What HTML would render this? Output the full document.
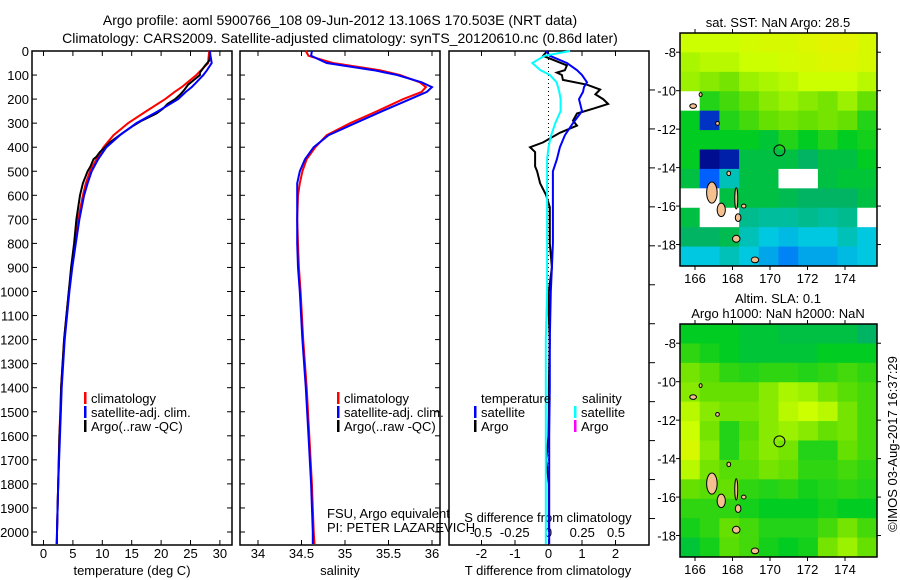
<!DOCTYPE html>
<html><head><meta charset="utf-8"><style>
body{margin:0;background:#fff}
svg{display:block}
text{font-family:"Liberation Sans",sans-serif;fill:#000}
</style></head><body>
<svg id="fig" width="900" height="580" viewBox="0 0 900 580" xmlns="http://www.w3.org/2000/svg">
<rect width="900" height="580" fill="#fff"/>
<text x="340" y="25" font-size="14" text-anchor="middle">Argo profile: aoml 5900766_108 09-Jun-2012 13.106S 170.503E (NRT data)</text>
<text x="340" y="43" font-size="14" text-anchor="middle">Climatology: CARS2009. Satellite-adjusted climatology: synTS_20120610.nc (0.86d later)</text>
<g id="g"></g>
</svg>
<script>
// ---- profile data ----
const depthC=[0,20,50,80,100,130,150,170,200,250,300,350,400,450,500,550,600,700,800,900,1000,1200,1400,1600,1800,2000,2050];
const tempClim=[28.2,28.1,28.0,26.8,26.0,24.5,23.5,22.3,20.7,17.5,14.4,11.9,10.2,9.0,7.9,7.2,6.7,5.9,5.4,4.8,4.3,3.5,3.0,2.7,2.5,2.3,2.2];
const tempSat=[28.3,28.4,28.6,27.8,27.2,26.0,25.2,24.2,22.9,19.5,15.8,13.0,10.7,9.3,8.2,7.5,6.9,6.1,5.5,4.9,4.4,3.6,3.1,2.8,2.5,2.3,2.3];
const salClim=[34.55,34.58,34.86,35.40,35.63,35.86,35.93,35.88,35.67,35.37,35.06,34.79,34.66,34.56,34.51,34.48,34.46,34.45,34.46,34.47,34.49,34.52,34.56,34.59,34.62,34.64,34.65];
const salSat=[34.62,34.61,34.79,35.33,35.60,35.88,36.0,35.94,35.75,35.43,35.12,34.81,34.64,34.54,34.48,34.45,34.45,34.45,34.45,34.46,34.48,34.51,34.55,34.58,34.61,34.63,34.63];
const tDiffSat=[-0.07,0.04,0.55,0.85,1.0,1.15,1.06,1.03,0.91,1.0,0.73,0.49,0.34,0.25,0.13,0.13,0.13,0.13,0.13,0.1,0.07,0.04,0.04,0.02,0.02,0.02,0.02];
const sDiffSat=[0.16,-0.03,-0.12,-0.06,0.01,0.06,0.07,0.08,0.09,0.09,0.05,0.02,0,-0.01,-0.01,-0.01,-0.01,-0.01,-0.01,-0.01,-0.01,-0.02,-0.02,-0.02,-0.02,-0.02,-0.02];
const depthA=[0,20,40,60,80,90,100,120,140,160,180,200,220,240,260,290,310,340,380,400,420,440,450,480,500,550,600,650,700,800,900,1000,1100,1200,1400,1500,1600,1700,1800,2000];
const tempArgo=[28.3,28.3,28.2,27.5,26.9,26.6,26.6,25.6,24.6,24.0,23.3,22.4,21.1,20.3,19.2,16.7,15.3,13.5,11.3,10.5,9.6,9.0,8.5,8.0,7.5,6.7,6.2,5.9,5.6,5.2,4.7,4.3,3.9,3.5,3.0,2.9,2.7,2.6,2.5,2.3];
const tDiffArgo=[-0.04,-0.16,0.19,0.55,0.49,0.25,0.4,0.43,1.15,1.54,1.4,1.63,1.78,1.33,0.85,0.73,0.85,0.34,-0.16,-0.55,-0.4,-0.4,-0.4,-0.4,-0.34,-0.25,-0.07,0.04,0.04,0.04,0.1,0.01,0.01,0.04,0.01,0.01,0,-0.07,0.01,0.01];
const depthTicks=[0,100,200,300,400,500,600,700,800,900,1000,1100,1200,1300,1400,1500,1600,1700,1800,1900,2000];
const tempTicks=[0,5,10,15,20,25,30];
const salTicks=[34,34.5,35,35.5,36];
const salTickLabels=["34","34.5","35","35.5","36"];
const tdTicks=[-2,-1,0,1,2];
const sdTicks=[-0.5,-0.25,0,0.25,0.5];
const sdTickLabels=["-0.5","-0.25","0","0.25","0.5"];
// ---- map data (colour index 0..1, null = no data) ----
const sstGrid=[
[0.85,0.85,0.85,0.88,0.9,0.9,0.92,0.95,0.95,0.9],
[0.8,0.82,0.82,0.85,0.85,0.88,0.9,0.92,0.92,0.9],
[0.78,0.75,0.72,0.78,0.8,0.82,0.85,0.85,0.85,0.82],
[null,0.6,0.65,0.7,0.75,0.78,0.75,0.72,0.78,0.7],
[0.55,0.08,0.6,0.65,0.7,0.72,0.7,0.72,0.7,0.6],
[0.55,0.55,0.55,0.55,0.52,0.6,0.55,0.6,0.55,0.58],
[0.55,0.02,0.05,0.5,0.5,0.5,0.45,0.5,0.5,0.55],
[0.5,0.15,0.35,0.5,0.5,null,null,0.5,0.52,0.52],
[null,null,0.5,0.5,0.5,0.48,0.45,0.45,0.45,0.5],
[0.5,null,null,0.4,0.38,0.38,0.4,0.38,0.4,null],
[0.45,0.45,0.48,0.35,0.3,0.28,0.3,0.3,0.35,0.3],
[0.3,0.3,0.35,0.3,0.25,0.2,0.25,0.25,0.28,0.3]];
const slaGrid=[
[0.55,0.55,0.55,0.52,0.52,0.5,0.5,0.5,0.5,0.45],
[0.62,0.58,0.55,0.52,0.52,0.52,0.52,0.55,0.55,0.55],
[0.72,0.68,0.62,0.6,0.62,0.62,0.6,0.62,0.65,0.62],
[0.75,0.7,0.7,0.7,0.75,0.8,0.78,0.72,0.68,0.65],
[0.82,0.75,0.72,0.72,0.75,0.82,0.85,0.82,0.72,0.65],
[0.85,0.72,0.6,0.68,0.75,0.78,0.75,0.7,0.72,0.65],
[0.9,0.75,0.6,0.7,0.75,0.72,0.6,0.6,0.7,0.65],
[0.82,0.72,0.68,0.68,0.72,0.7,0.62,0.62,0.65,0.62],
[0.7,0.68,0.7,0.62,0.6,0.62,0.58,0.6,0.62,0.6],
[0.62,0.62,0.62,0.58,0.55,0.55,0.55,0.58,0.55,0.55],
[0.58,0.62,0.7,0.65,0.6,0.6,0.6,0.65,0.72,0.65],
[0.52,0.58,0.68,0.65,0.58,0.55,0.58,0.72,0.78,0.7]];
const lonTicks=[166,168,170,172,174];
const latTicks=[-8,-10,-12,-14,-16,-18];
const latTickLabels=["-8","-10","-12","-14","-16","-18"];
const islandLon=[165.9,166.3,166.9,167.4,167.8,168.2,168.3,168.2,168.6,169.2,167.2];
const islandLat=[-10.8,-10.2,-15.3,-16.2,-14.3,-15.6,-16.6,-17.7,-16.0,-18.8,-11.7];
const islandRx=[0.18,0.08,0.28,0.22,0.1,0.08,0.15,0.2,0.12,0.2,0.1];
const islandRy=[0.12,0.1,0.55,0.35,0.12,0.55,0.2,0.18,0.1,0.15,0.1];
const argoLon=170.503, argoLat=-13.106;

const NS="http://www.w3.org/2000/svg";
const G=document.getElementById('g');
function el(tag,attrs,parent,txt){const e=document.createElementNS(NS,tag);for(const k in attrs)e.setAttribute(k,attrs[k]);if(txt!==undefined)e.textContent=txt;(parent||G).appendChild(e);return e;}

const Y0=51, YS=0.2405, YB=545;
const yD=d=>Y0+d*YS;
const panels=[
 {x0:32,x1:232,f:v=>43.5+5.88*v,name:'temperature-panel'},
 {x0:240,x1:440,f:v=>258+87*(v-34),name:'salinity-panel'},
 {x0:449,x1:649,f:v=>548.5+33.5*v,name:'difference-panel'}];
const fS=v=>548.5+135*v;

panels.forEach((p,i)=>{
 const r=el('rect',{x:p.x0,y:Y0,width:p.x1-p.x0,height:YB-Y0,fill:'none',stroke:'#000','stroke-width':1.5});
 
 
 depthTicks.forEach(d=>{
  if(i<2){el('line',{x1:p.x0,x2:p.x0+5,y1:yD(d),y2:yD(d),stroke:'#000'});el('line',{x1:p.x1-5,x2:p.x1,y1:yD(d),y2:yD(d),stroke:'#000'});}
 });
});
depthTicks.forEach(d=>{const t=el('text',{x:29,y:yD(d)+5,'font-size':13,'text-anchor':'end'},G,String(d));
 
 });
for(let k=1;k<=12;k++){const d=162*k;if(d<2050)el('line',{x1:649,x2:655,y1:yD(d),y2:yD(d),stroke:'#000'});}
function xticks(p,vals,labels){vals.forEach((v,j)=>{const x=p.f(v);
 el('line',{x1:x,x2:x,y1:Y0,y2:Y0+5,stroke:'#000'});el('line',{x1:x,x2:x,y1:YB-5,y2:YB,stroke:'#000'});
 const t=el('text',{x:x,y:558,'font-size':13,'text-anchor':'middle'},G,labels[j]);
 
 });}
xticks(panels[0],tempTicks,tempTicks.map(String));
xticks(panels[1],salTicks,salTickLabels);
xticks(panels[2],tdTicks,tdTicks.map(String));
sdTicks.forEach((v,j)=>{const t=el('text',{x:fS(v),y:537,'font-size':13,'text-anchor':'middle'},G,sdTickLabels[j]);
 
 });
[[132,'temperature (deg C)','temperature-axis-title'],[340,'salinity','salinity-axis-title'],[548,'T difference from climatology','t-diff-axis-title']].forEach(a=>{
 const t=el('text',{x:a[0],y:575,'font-size':13,'text-anchor':'middle'},G,a[1]);
 
 });
const st=el('text',{x:548,y:522,'font-size':13,'text-anchor':'middle'},G,'S difference from climatology');


el('line',{x1:548.5,x2:548.5,y1:Y0,y2:YB,stroke:'#000','stroke-dasharray':'1,3'});

function line(depths,vals,fx,color,name,w){
 const pts=depths.map((d,i)=>fx(vals[i]).toFixed(1)+','+yD(d).toFixed(1)).join(' ');
 const l=el('polyline',{points:pts,fill:'none',stroke:color,'stroke-width':w||2});
 
 }
line(depthC,tempClim,panels[0].f,'#f00','temp-climatology-line');
line(depthA,tempArgo,panels[0].f,'#000','temp-argo-line');
line(depthC,tempSat,panels[0].f,'#00f','temp-satellite-line');
line(depthC,salClim,panels[1].f,'#f00','sal-climatology-line');
line(depthC,salSat,panels[1].f,'#00f','sal-satellite-line');
line(depthA,tDiffArgo,panels[2].f,'#000','t-diff-argo-line');
line(depthC,tDiffSat,panels[2].f,'#00f','t-diff-satellite-line');
line(depthC,sDiffSat,fS,'#0ff','s-diff-satellite-line');

function leg(x,y,color,txt,name){el('rect',{x:x,y:y-11,width:2.5,height:12,fill:color});
 const t=el('text',{x:x+7,y:y,'font-size':13},G,txt);
 
 }
leg(84,403,'#f00','climatology','legend-climatology');
leg(84,417,'#00f','satellite-adj. clim.','legend-satellite');
leg(84,431,'#000','Argo(..raw -QC)','legend-argo');
leg(337,403,'#f00','climatology','legend-climatology-2');
leg(337,417,'#00f','satellite-adj. clim.','legend-satellite-2');
leg(337,431,'#000','Argo(..raw -QC)','legend-argo-2');
el('text',{x:481,y:403,'font-size':13},G,'temperature');
el('text',{x:582,y:403,'font-size':13},G,'salinity');
leg(474,417,'#00f','satellite','legend-t-satellite');
leg(474,431,'#000','Argo','legend-t-argo');
leg(574,417,'#0ff','satellite','legend-s-satellite');
leg(574,431,'#f0f','Argo','legend-s-argo');
el('text',{x:327,y:518,'font-size':13},G,'FSU, Argo equivalent');
el('text',{x:327,y:532,'font-size':13},G,'PI: PETER LAZAREVICH');

const stops=[[0,[0,0,128]],[0.15,[0,96,255]],[0.3,[0,200,224]],[0.45,[0,180,100]],[0.55,[0,204,34]],[0.7,[102,224,0]],[0.85,[204,255,0]],[1,[238,238,0]]];
function cmap(v){for(let i=1;i<stops.length;i++){if(v<=stops[i][0]){const a=stops[i-1],b=stops[i],t=(v-a[0])/(b[0]-a[0]);
 return 'rgb('+a[1].map((c,k)=>Math.round(c+(b[1][k]-c)*t)).join(',')+')';}}return 'rgb(238,238,0)';}
function map(y0,grid,name){
 const X0=680,X1=877,Y1=y0+233;
 const lx=l=>X0+(l-165.2)*18.75, ly=l=>y0+(-7.0-l)*19.23;
 const rows=grid.length, cols=grid[0].length, cw=(X1-X0)/cols, ch=(Y1-y0)/rows;
 grid.forEach((row,r)=>row.forEach((v,c)=>{
  const cell=el('rect',{x:X0+c*cw,y:y0+r*ch,width:cw+0.5,height:ch+0.5,fill:v===null?'#fff':cmap(v)});
  
  }));
 islandLon.forEach((lo,i)=>{const e=el('ellipse',{cx:lx(lo),cy:ly(islandLat[i]),rx:islandRx[i]*18.75,ry:islandRy[i]*19.23,fill:'#f4c090',stroke:'#000','stroke-width':1});
  
  });
 const c=el('circle',{cx:lx(argoLon),cy:ly(argoLat),r:5.5,fill:'none',stroke:'#000','stroke-width':1});
 
 
 const f=el('rect',{x:X0,y:y0,width:X1-X0,height:Y1-y0,fill:'none',stroke:'#000','stroke-width':1.5});
 
 
 lonTicks.forEach(l=>{const x=lx(l);el('line',{x1:x,x2:x,y1:y0-4,y2:y0,stroke:'#000'});el('line',{x1:x,x2:x,y1:Y1,y2:Y1+4,stroke:'#000'});
  const t=el('text',{x:x,y:Y1+17,'font-size':13,'text-anchor':'middle'},G,String(l));
  
  });
 latTicks.forEach((l,j)=>{const y=ly(l);el('line',{x1:X0-4,x2:X0,y1:y,y2:y,stroke:'#000'});el('line',{x1:X1,x2:X1+4,y1:y,y2:y,stroke:'#000'});
  const t=el('text',{x:676,y:y+5,'font-size':13,'text-anchor':'end'},G,latTickLabels[j]);
  
  });
}
map(33,sstGrid,'sst-map');
map(324,slaGrid,'sla-map');
el('text',{x:778,y:27,'font-size':13,'text-anchor':'middle'},G,'sat. SST: NaN Argo: 28.5');
el('text',{x:778,y:303,'font-size':13,'text-anchor':'middle'},G,'Altim. SLA: 0.1');
el('text',{x:778,y:318,'font-size':13,'text-anchor':'middle'},G,'Argo h1000: NaN h2000: NaN');
el('text',{x:0,y:0,'font-size':13,'text-anchor':'middle',transform:'translate(897,444) rotate(-90)'},G,'©IMOS 03-Aug-2017 16:37:29');
</script>
</body></html>
